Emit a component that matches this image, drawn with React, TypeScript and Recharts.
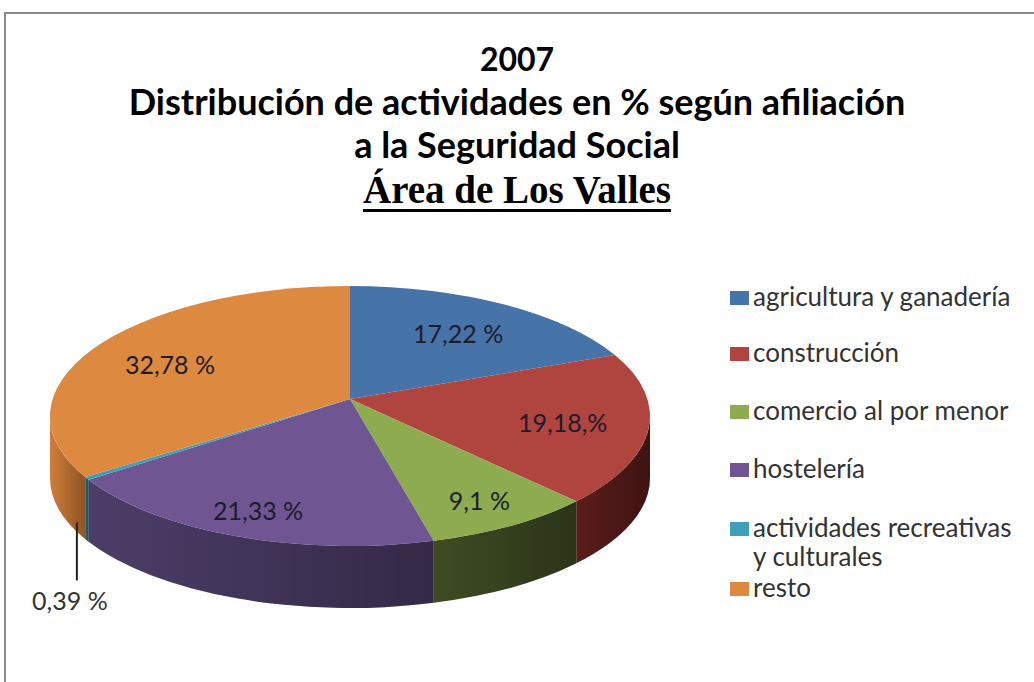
import { Legend, Pie, PieChart } from 'recharts';

const CATEGORIES = [
  'agricultura y ganadería',
  'construcción',
  'comercio al por menor',
  'hostelería',
  'actividades recreativas y culturales',
  'resto',
];
const VALUES = [17.22, 19.18, 9.1, 21.33, 0.39, 32.78];
const VALUE_LABELS = ['17,22 %', '19,18,%', '9,1 %', '21,33 %', '0,39 %', '32,78 %'];

const TITLE_LINES = ['2007', 'Distribución de actividades en % según afiliación', 'a la Seguridad Social'];
const SUBTITLE = 'Área de Los Valles';

const TOP_COLORS = ['#4673a8', '#b0453f', '#8dab4f', '#6f5692', '#3ea0b8', '#dd893f'];
const SIDE_COLORS = ['#2e4c72', '#5a1d1b', '#3f4c23', '#4c3d68', '#2a6a7c', '#cf7d38'];

const W = 1034;
const H = 682;
// recharts adds its 5px margin to cx / cy
const CX = 345;
const CY = 411;
const RX = 300;
const RY_RATIO = 130 / 300;
const APEX_LIFT = 17;
const DEPTH = 62;
const RAD = Math.PI / 180;

const data = CATEGORIES.map((name, i) => ({
  name,
  value: VALUES[i],
  label: VALUE_LABELS[i],
  fill: TOP_COLORS[i],
  side: SIDE_COLORS[i],
  key: i,
}));

function ellipsePoint(cx: number, cy: number, rx: number, a: number) {
  const ry = rx * RY_RATIO;
  return [cx + rx * Math.cos(a * RAD), cy - ry * Math.sin(a * RAD)];
}

function Pie3DSector(props: any) {
  const { cx, cy, outerRadius, startAngle, endAngle, payload } = props;
  const rx = outerRadius;
  const ry = rx * RY_RATIO;
  const hi = Math.max(startAngle, endAngle);
  const lo = Math.min(startAngle, endAngle);
  const fill = payload?.fill ?? props.fill;
  const side = payload?.side ?? fill;
  const id = `side-${payload?.key ?? 0}`;
  const p = (a: number) => ellipsePoint(cx, cy, rx, a);
  const [sx, sy] = p(hi);
  const [ex, ey] = p(lo);
  const large = hi - lo > 180 ? 1 : 0;
  const top = `M${cx},${cy - APEX_LIFT} L${sx},${sy} A${rx},${ry} 0 ${large} 1 ${ex},${ey} Z`;

  // only the front half of the rim is visible
  const sides: string[] = [];
  for (let k = -2; k <= 1; k++) {
    const fHi = Math.min(hi, 360 * k);
    const fLo = Math.max(lo, -180 + 360 * k);
    if (fHi - fLo > 0.01) {
      const [ax, ay] = p(fHi);
      const [bx, by] = p(fLo);
      sides.push(
        `M${ax},${ay} A${rx},${ry} 0 0 1 ${bx},${by} L${bx},${by + DEPTH} A${rx},${ry} 0 0 0 ${ax},${ay + DEPTH} Z`,
      );
    }
  }

  return (
    <g>
      <defs>
        <linearGradient id={`${id}-shade`} x1="0" y1="0" x2="1" y2="0">
          <stop offset="0%" stopColor="#000000" stopOpacity={0} />
          <stop offset="100%" stopColor="#000000" stopOpacity={0.32} />
        </linearGradient>
      </defs>
      {sides.map((d, i) => (
        <g key={i}>
          <path d={d} fill={side} stroke="none" />
          <path d={d} fill={`url(#${id}-shade)`} stroke="none" />
        </g>
      ))}
      <path d={top} fill={fill} stroke="none" />
    </g>
  );
}

function SliceLabel(props: any) {
  const { cx, cy, midAngle, outerRadius, percent, index } = props;
  const text = VALUE_LABELS[index] ?? props.payload?.label;
  const [px, py] = ellipsePoint(cx, cy, outerRadius, midAngle);
  const style = { fontFamily: 'Lato, sans-serif', fontSize: 25 };
  if (percent < 0.01) {
    const y0 = py + DEPTH - 18;
    return (
      <g>
        <line x1={px - 10} y1={y0} x2={px - 10} y2={y0 + 58} stroke="#222" strokeWidth={2} />
        <text x={px - 17} y={y0 + 78} textAnchor="middle" dominantBaseline="central" fill="#333" style={style}>
          {text}
        </text>
      </g>
    );
  }
  // labels in the front half sit a bit further out, as the perspective stretches them
  const k = 0.7 + 0.12 * Math.max(0, -Math.sin(midAngle * RAD));
  const ax = cx;
  const ay = cy - APEX_LIFT;
  const x = ax + k * (px - ax);
  const y = ay + k * (py - ay);
  return (
    <text x={x} y={y} textAnchor="middle" dominantBaseline="central" fill="#1c1c2c" style={style}>
      {text}
    </text>
  );
}

const ROW_HEIGHTS = [56, 58, 58, 59, 60, 40];

function LegendList() {
  return (
    <div style={{ fontFamily: 'Lato, sans-serif', fontSize: 26, color: '#333', width: 300 }}>
      {data.map((d) => (
        <div key={d.key} style={{ position: 'relative', height: ROW_HEIGHTS[d.key], lineHeight: '29px' }}>
          <span
            style={{ position: 'absolute', left: 0, top: 9, width: 19, height: 14, background: d.fill }}
          />
          <span style={{ position: 'absolute', left: 23, top: 0, width: 270 }}>{d.name}</span>
        </div>
      ))}
    </div>
  );
}

export default function App() {
  const titleStyle = {
    position: 'absolute' as const,
    left: 0,
    width: W,
    textAlign: 'center' as const,
    fontFamily: 'Lato, sans-serif',
    fontWeight: 700,
    fontSize: 36,
    lineHeight: '43.2px',
    color: '#000',
    whiteSpace: 'nowrap' as const,
  };
  const baselines = [72, 115, 158];
  return (
    <div style={{ position: 'absolute', left: 0, top: 0, width: W, height: H, overflow: 'hidden', background: '#fff' }}>
      <div
        style={{
          position: 'absolute',
          left: 4,
          top: 12,
          width: 1100,
          height: 720,
          border: '2px solid #8a8a8a',
        }}
      />
      {TITLE_LINES.map((t, i) =>
        i === 0 ? (
          <div key={i} style={{ ...titleStyle, fontSize: 32, lineHeight: '38.4px', top: baselines[i] - 31.6 }}>
            {t}
          </div>
        ) : (
          <div key={i} style={{ ...titleStyle, top: baselines[i] - 35.5 }}>
            {t}
          </div>
        ),
      )}
      <div
        style={{
          ...titleStyle,
          top: 167,
          fontFamily: '"Liberation Serif", serif',
          fontSize: 39,
          lineHeight: '45px',
          textDecoration: 'underline',
          textDecorationThickness: 3,
          textUnderlineOffset: 6,
        }}
      >
        {SUBTITLE}
      </div>
      <div style={{ position: 'absolute', left: 0, top: 0 }}>
        <PieChart width={W} height={H}>
          <Pie
            data={data}
            dataKey="value"
            nameKey="name"
            cx={CX}
            cy={CY}
            outerRadius={RX}
            startAngle={90}
            endAngle={-270}
            stroke="none"
            shape={Pie3DSector}
            label={SliceLabel}
            labelLine={false}
            isAnimationActive={false}
          />
          <Legend
            layout="vertical"
            align="right"
            verticalAlign="top"
            content={() => <LegendList />}
            wrapperStyle={{ left: 730, top: 282, width: 304 }}
          />
        </PieChart>
      </div>
    </div>
  );
}
